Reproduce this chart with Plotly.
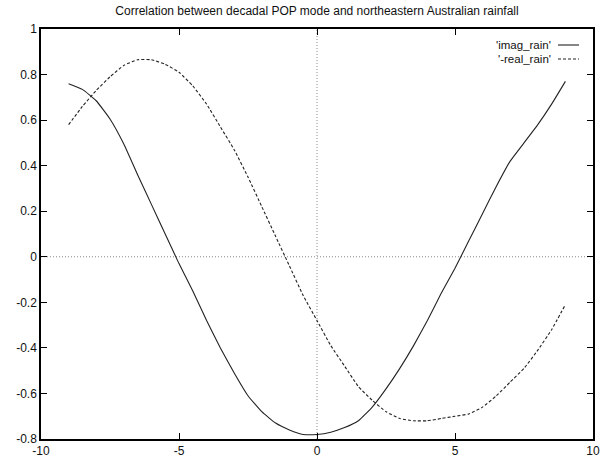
import plotly.graph_objects as go

# Lag axis (years) and the two correlation series
lags = [-9, -8.5, -8, -7.5, -7, -6.5, -6, -5.5, -5, -4.5, -4, -3.5, -3, -2.5,
        -2, -1.5, -1, -0.5, 0, 0.5, 1, 1.5, 2, 2.5, 3, 3.5, 4, 4.5, 5, 5.5,
        6, 6.5, 7, 7.5, 8, 8.5, 9]

imag_rain = [0.76, 0.735, 0.685, 0.605, 0.495, 0.36, 0.23, 0.10, -0.03, -0.15,
             -0.28, -0.40, -0.51, -0.61, -0.68, -0.73, -0.76, -0.78, -0.78,
             -0.77, -0.75, -0.72, -0.66, -0.58, -0.49, -0.39, -0.28, -0.16,
             -0.05, 0.07, 0.19, 0.31, 0.42, 0.50, 0.58, 0.67, 0.77]

neg_real_rain = [0.58, 0.66, 0.73, 0.79, 0.84, 0.865, 0.865, 0.845, 0.81,
                 0.75, 0.67, 0.57, 0.47, 0.35, 0.22, 0.09, -0.04, -0.17,
                 -0.28, -0.39, -0.48, -0.57, -0.63, -0.68, -0.71, -0.72,
                 -0.72, -0.71, -0.70, -0.69, -0.66, -0.61, -0.55, -0.49,
                 -0.41, -0.32, -0.21]

series_names = ["'imag_rain'", "'-real_rain'"]

x_ticks = [-10, -5, 0, 5, 10]
x_ticktext = ["-10", "-5", "0", "5", "10"]
y_ticks = [-0.8, -0.6, -0.4, -0.2, 0, 0.2, 0.4, 0.6, 0.8, 1]
y_ticktext = ["-0.8", "-0.6", "-0.4", "-0.2", "0", "0.2", "0.4", "0.6", "0.8", "1"]

title_text = "Correlation between decadal POP mode and northeastern Australian rainfall"

W, H = 606, 458
ML, MR, MT, MB = 41, 13, 29, 19
plot_w = W - ML - MR
plot_h = H - MT - MB

FONT = "Liberation Sans, Arial, Helvetica, sans-serif"

fig = go.Figure()
fig.add_trace(go.Scatter(x=lags, y=imag_rain, mode="lines", name=series_names[0],
                         line=dict(color="#222222", width=1.1, shape="spline",
                                   smoothing=0.4),
                         showlegend=False))
fig.add_trace(go.Scatter(x=lags, y=neg_real_rain, mode="lines", name=series_names[1],
                         line=dict(color="#222222", width=1.1, dash="3px,2px",
                                   shape="spline", smoothing=0.4),
                         showlegend=False))

# dotted zero axes
fig.add_shape(type="line", xref="x", yref="paper", x0=0, x1=0, y0=0, y1=1,
              line=dict(color="#888888", width=1, dash="1px,2px"), layer="below")
fig.add_shape(type="line", xref="paper", yref="y", x0=0, x1=1, y0=0, y1=0,
              line=dict(color="#888888", width=1, dash="1px,2px"), layer="below")

# key in the upper right corner: label, then a line sample
def px_x(px):
    return (px - ML) / plot_w

def px_y(py):
    return (H - MB - py) / plot_h

key_rows = [45, 59]
key_dash = ["solid", "3px,2px"]
for name, row, dash in zip(series_names, key_rows, key_dash):
    fig.add_annotation(x=px_x(553), y=px_y(row), xref="paper", yref="paper",
                       text=name, showarrow=False, xanchor="right", yanchor="middle",
                       font=dict(family=FONT, size=11.5, color="#111111"))
    fig.add_shape(type="line", xref="paper", yref="paper",
                  x0=px_x(558), x1=px_x(579), y0=px_y(row), y1=px_y(row),
                  line=dict(color="#222222", width=1.1, dash=dash))

axis_common = dict(showline=True, linecolor="black", linewidth=1.5, mirror="ticks",
                   ticks="inside", ticklen=6, tickcolor="black", tickwidth=1,
                   showgrid=False, zeroline=False, automargin=False,
                   tickfont=dict(family=FONT, size=12, color="#111111"))

fig.update_layout(
    width=W, height=H,
    margin=dict(l=ML, r=MR, t=MT, b=MB, pad=0, autoexpand=False),
    paper_bgcolor="white", plot_bgcolor="white",
    title=dict(text=title_text, x=(ML + plot_w / 2) / W, xanchor="center",
               y=1 - 11 / H, yanchor="middle", yref="container",
               font=dict(family=FONT, size=12, color="#111111")),
    xaxis=dict(range=[-10, 10], tickvals=x_ticks, ticktext=x_ticktext, **axis_common),
    yaxis=dict(range=[-0.8, 1], tickvals=y_ticks, ticktext=y_ticktext, **axis_common),
)

fig.write_html("out.html")
